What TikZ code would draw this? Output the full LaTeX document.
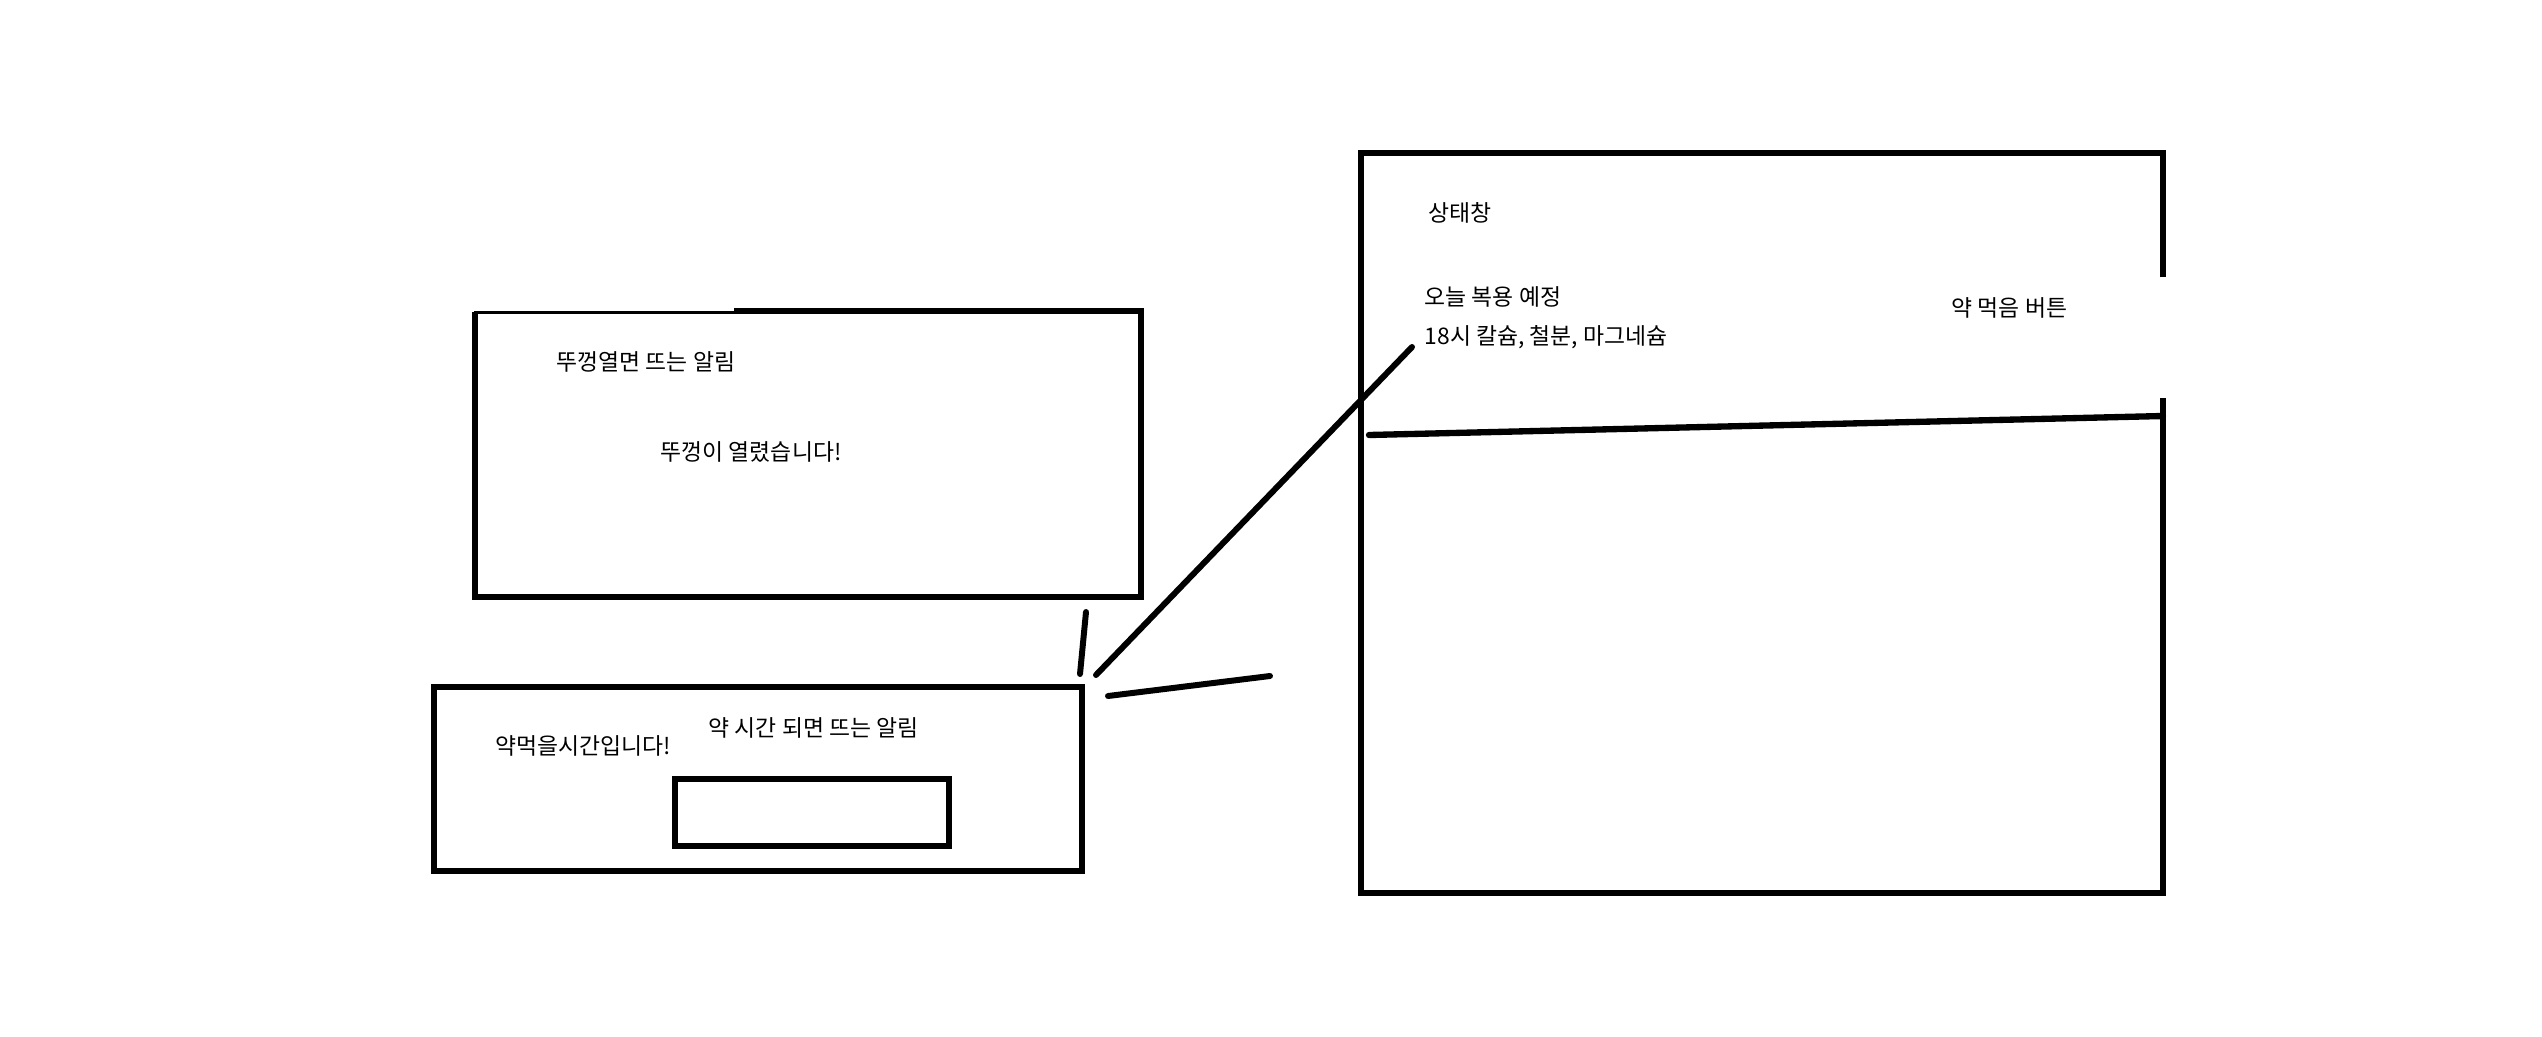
\documentclass[tikz,border=0pt]{standalone}
\usepackage{fontspec}
\setmainfont{Noto Sans CJK KR}

\begin{document}
\begin{tikzpicture}[x=0.01cm, y=-0.01cm, font=\fontsize{6.5}{7.5}\selectfont,
  frame/.style={line width=1.6pt},
  stroke/.style={line width=1.7pt, line cap=round},
  memo/.style={anchor=west, inner sep=0pt}]
\useasboundingbox (0,0) rectangle (2542,1036);
% lid alert
\draw[frame] (734,311) -| (1141,597) -| (475,312); \draw[line width=1.1pt] (474,312.5) -- (734,312.5);
\node[memo] (lidtitle) at (556,362) {뚜껑열면 뜨는 알림}; \node[memo] (lidmsg) at (660,452) {뚜껑이 열렸습니다!};
% pill alert
\draw[frame] (434,687) rectangle (1082,871); \draw[frame] (675,779) rectangle (949,846);
\node[memo] (pilltitle) at (708,728) {약 시간 되면 뜨는 알림}; \node[memo] (pillmsg) at (495,746) {약먹을시간입니다!};
% status screen
\draw[frame] (2163,277) |- (1361,153) |- (2163,893) -- (2163,398);
\coordinate (barL) at (1369,435); \coordinate (barR) at (2163,416); \draw[line width=1.8pt, line cap=round] (barL)--(barR);
\node[memo] (status) at (1428,213) {상태창}; \node[memo] (today) at (1424,297) {오늘 복용 예정};
\node[memo] (dose) at (1424,337) {18시 칼슘, 철분, 마그네슘}; \node[memo] (takebtn) at (1951,308) {약 먹음 버튼};
% flash strokes
\coordinate (tickA) at (1086,612); \coordinate (tickB) at (1080,674); \draw[stroke] (tickA)--(tickB);
\coordinate (rayA) at (1096,675); \coordinate (rayB) at (1412,347); \draw[stroke] (rayA)--(rayB);
\coordinate (dashA) at (1108,696); \coordinate (dashB) at (1270,676); \draw[stroke] (dashA)--(dashB);
\end{tikzpicture}
\end{document}
